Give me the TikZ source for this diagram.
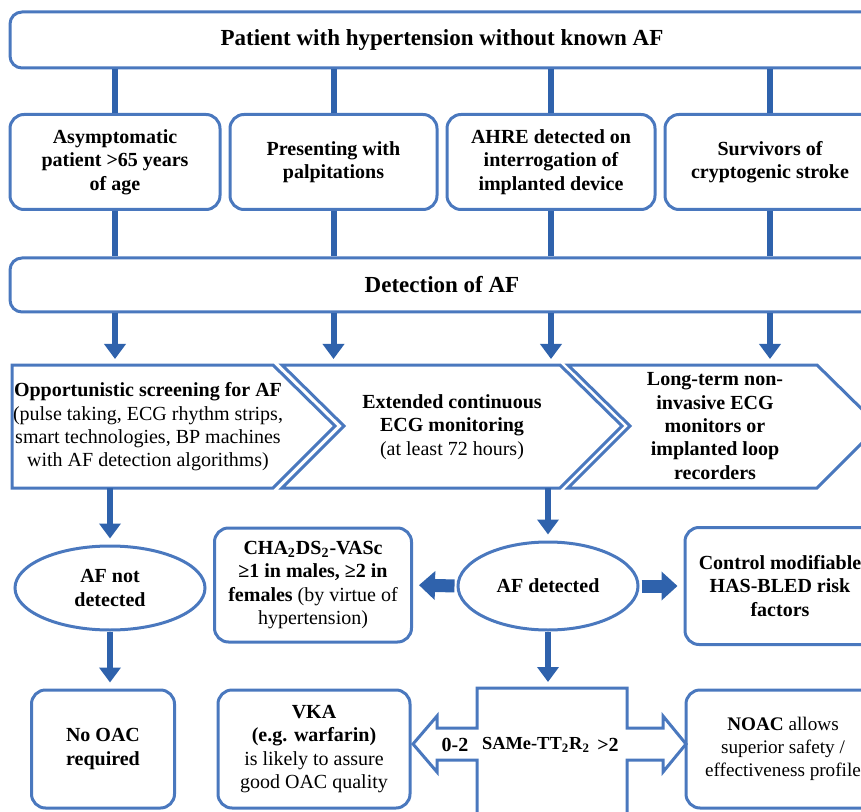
\documentclass[tikz,border=0pt]{standalone}
\usepackage{fontspec}
\setmainfont{Liberation Serif}
\usepackage{tikz}
\usetikzlibrary{arrows.meta, shapes.geometric}

\definecolor{boxblue}{HTML}{4A78BE}
\definecolor{arrblue}{HTML}{2F62AC}

\tikzset{
    rbox/.style={draw=boxblue, line width=1.5pt, rounded corners=7pt, align=center, inner sep=2pt,
        font=\fontsize{10}{11.7}\selectfont\bfseries},
    widebox/.style={rbox, rounded corners=6pt, minimum width=432pt,
        font=\fontsize{11.5}{13}\selectfont\bfseries},
    oval/.style={draw=boxblue, line width=1.5pt, ellipse, align=center, inner sep=0pt,
        font=\fontsize{10}{11.7}\selectfont\bfseries},
    chev/.style={draw=boxblue, line width=1.5pt, line join=miter},
    txt/.style={align=center, inner sep=0pt, font=\fontsize{10}{11.7}\selectfont},
    btxt/.style={txt, font=\fontsize{10}{11.7}\selectfont\bfseries},
    link/.style={arrblue, line width=3pt},
    flow/.style={arrblue, line width=3pt, -{Triangle[width=10.5pt,length=7.5pt]}, shorten >=3pt},
    fat/.style={arrblue, line width=6.5pt, -{Triangle[width=14pt,length=8pt]}, shorten >=3pt, shorten <=1pt},
}

\begin{document}
\begin{tikzpicture}[x=0.5pt, y=-0.5pt]
    \clip (0,0) rectangle (861,812);

    \node[widebox, minimum height=28pt] (top) at (442,40) {Patient with hypertension without known AF};

    \node[rbox, minimum width=105pt, minimum height=47.5pt] (b1) at (115,162) {Asymptomatic\\patient >65 years\\of age};
    \node[rbox, minimum width=103.5pt, minimum height=47.5pt] (b2) at (333.5,162) {Presenting with\\palpitations};
    \node[rbox, minimum width=104pt, minimum height=47.5pt] (b3) at (551,162) {AHRE detected on\\interrogation of\\implanted device};
    \node[rbox, minimum width=105pt, minimum height=47.5pt] (b4) at (770,162) {Survivors of\\cryptogenic stroke};

    \node[widebox, minimum height=27pt] (det) at (442,285) {Detection of AF};

    \foreach \b in {b1,b2,b3,b4}{
        \draw[link] (top.south -| \b.north) -- (\b.north);
        \draw[link] (\b.south) -- (det.north -| \b.south);
    }

    % chevron row
    \coordinate (cvtop) at (0,365);
    \coordinate (cvbot) at (0,488);
    \draw[chev] (12,365) -- (273,365) -- (335,426) -- (273,488) -- (12,488) -- cycle;
    \draw[chev] (282,365) -- (560,365) -- (622,426) -- (560,488) -- (282,488) -- (344,426) -- cycle;
    \draw[chev] (568,365) -- (817,365) -- (879,426) -- (817,488) -- (568,488) -- (630,426) -- cycle;

    \node[txt] (ch1) at (148,427) {\textbf{Opportunistic screening for AF}\\(pulse taking, ECG rhythm strips,\\smart technologies, BP machines\\with AF detection algorithms)};
    \node[txt] (ch2) at (452,427) {\textbf{Extended continuous}\\\textbf{ECG monitoring}\\(at least 72 hours)};
    \node[btxt] (ch3) at (715,426) {Long-term non-\\invasive ECG\\monitors or\\implanted loop\\recorders};

    \foreach \b in {b1,b2,b3,b4}
        \draw[flow] (det.south -| \b) -- (\b |- cvtop);

    % outcome of screening
    \node[oval, minimum width=95pt, minimum height=42pt] (nodet) at (110,588) {AF not\\detected};
    \node[oval, minimum width=90pt, minimum height=44pt] (afdet) at (548,586) {AF detected};
    \node[rbox, minimum width=98.5pt, minimum height=57pt] (cha) at (313,585)
        {CHA\textsubscript{2}DS\textsubscript{2}-VASc\\≥1 in males, ≥2 in\\females \mdseries(by virtue of\\\mdseries hypertension)};
    \node[rbox, minimum width=95pt, minimum height=58.5pt] (ctrl) at (780,586) {Control modifiable\\HAS-BLED risk\\factors};

    \draw[flow] (nodet |- cvbot) -- (nodet.north);
    \draw[flow] (afdet |- cvbot) -- (afdet.north);
    \draw[fat] (afdet.west) -- (cha.east);
    \draw[fat] (afdet.east) -- (ctrl.west);

    % anticoagulation
    \node[rbox, minimum width=71.5pt, minimum height=59pt] (nooac) at (103,749) {No OAC\\required};
    \node[rbox, minimum width=96pt, minimum height=59pt] (vka) at (314,749)
        {VKA\\(e.g. warfarin)\\\mdseries is likely to assure\\\mdseries good OAC quality};
    \node[rbox, minimum width=97pt, minimum height=59pt, font=\fontsize{9.6}{11.5}\selectfont\bfseries] (noac) at (783,749)
        {NOAC \mdseries allows\\\mdseries superior safety /\\\mdseries effectiveness profile};

    \coordinate (samtop) at (0,688);
    \draw[chev] (477,688) -- (627,688) -- (627,728) -- (663,728) -- (663,716) -- (686,744)
        -- (663,772) -- (663,760) -- (627,760) -- (627,815) -- (477,815) -- (477,760)
        -- (437,760) -- (437,772) -- (413,744) -- (437,716) -- (437,728) -- (477,728) -- cycle;
    \node[btxt] (low) at (455,745) {0-2};
    \node[btxt, font=\fontsize{9.2}{11}\selectfont\bfseries] (same) at (536,745) {SAMe-TT\textsubscript{2}R\textsubscript{2}};
    \node[btxt] (high) at (608,745) {>2};

    \draw[flow] (nodet.south) -- (nooac.north -| nodet.south);
    \draw[flow] (afdet.south) -- (afdet |- samtop);
\end{tikzpicture}
\end{document}
